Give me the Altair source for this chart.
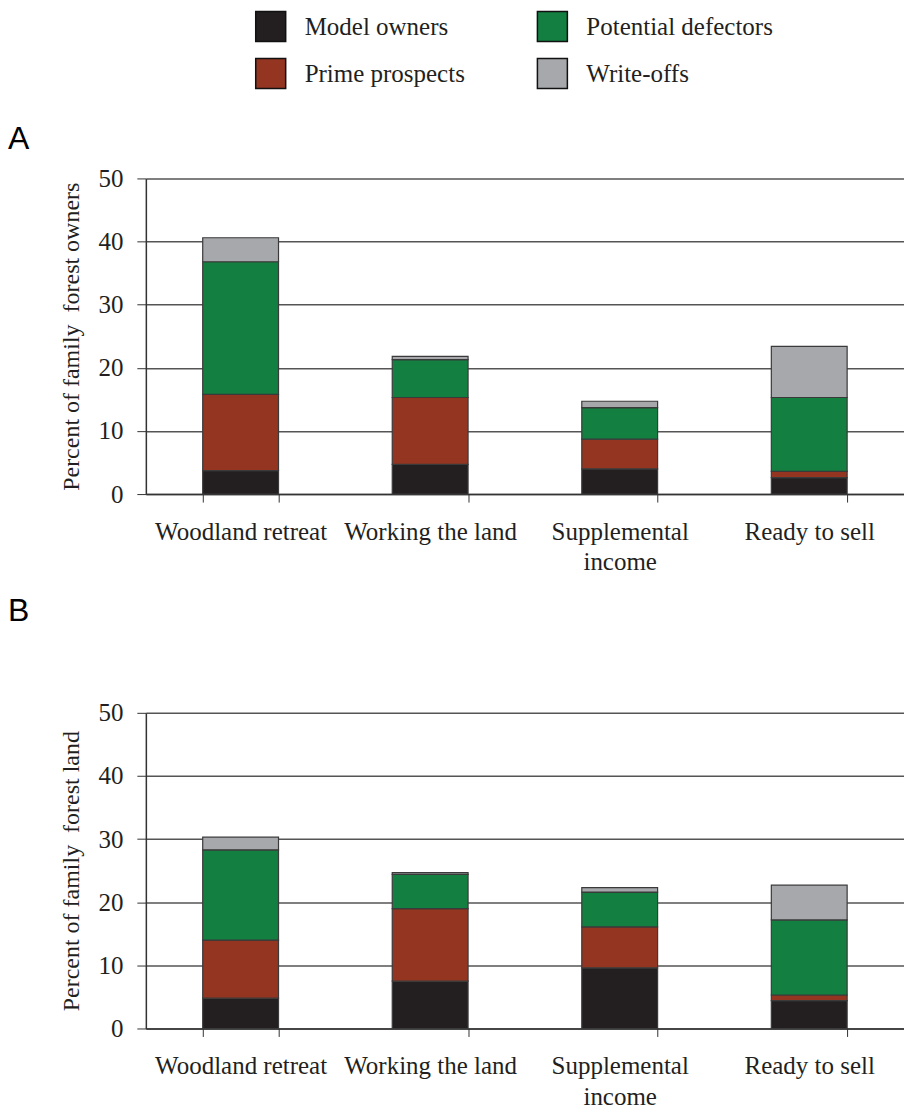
import altair as alt
import pandas as pd

categories = ["Woodland retreat", "Working the land", "Supplemental income", "Ready to sell"]
series = ["Model owners", "Prime prospects", "Potential defectors", "Write-offs"]
colors = ["#231f20", "#943521", "#137f40", "#a7a8ab"]

# Panel A: percent of family forest owners (segment sizes)
owners_model = [3.7, 4.7, 4.0, 2.6]
owners_prime = [12.1, 10.6, 4.7, 1.0]
owners_defect = [21.0, 6.0, 5.0, 11.7]
owners_write = [3.8, 0.5, 1.0, 8.1]

# Panel B: percent of family forest land (segment sizes)
land_model = [4.8, 7.5, 9.6, 4.4]
land_prime = [9.2, 11.5, 6.5, 0.9]
land_defect = [14.3, 5.4, 5.5, 11.9]
land_write = [2.0, 0.3, 0.7, 5.5]

y_ticks = [0, 10, 20, 30, 40, 50]


def make_df(model, prime, defect, write):
    rows = []
    for s_idx, (name, vals) in enumerate(zip(series, [model, prime, defect, write])):
        for c, v in zip(categories, vals):
            rows.append({"category": c, "segment": name, "order": s_idx, "value": v})
    return pd.DataFrame(rows)


SERIF = "Liberation Serif"
SANS = "Liberation Sans"
W, H = 759, 316


def panel(df, letter, ytitle, offset, show_legend):
    legend = None
    if show_legend:
        legend = alt.Legend(
            orient="none", legendX=109, legendY=-168, columns=2, title=None,
            symbolType="square", symbolSize=900, symbolStrokeColor="#111",
            symbolStrokeWidth=1.5, symbolOpacity=1,
            labelFont=SERIF, labelFontSize=25, labelColor="#231f20",
            labelLimit=400, labelOffset=18, columnPadding=69, rowPadding=11,
        )
    return alt.Chart(df).mark_bar(stroke="#3a3a3a", strokeWidth=1.2).encode(
        x=alt.X("category:N", sort=categories,
                scale=alt.Scale(paddingInner=0.6, paddingOuter=0.3),
                axis=alt.Axis(
                    title=None, labelAngle=0, tickBand="extent", tickSize=8,
                    tickColor="#333", domainColor="#333", domainWidth=1.5,
                    labelPadding=17, labelFont=SERIF, labelFontSize=25,
                    labelColor="#231f20", labelLineHeight=31, grid=False,
                    labelExpr="datum.label == 'Supplemental income' ? ['Supplemental', 'income'] : datum.label",
                )),
        y=alt.Y("value:Q", stack="zero",
                scale=alt.Scale(domain=[0, 50], nice=False),
                axis=alt.Axis(
                    values=y_ticks, title=ytitle, titleFont=SERIF,
                    titleFontSize=24, titleFontWeight="normal",
                    titleColor="#231f20", titlePadding=14,
                    labelFont=SERIF, labelFontSize=25, labelColor="#231f20",
                    labelPadding=14, tickSize=9, tickColor="#333",
                    domainColor="#333", domainWidth=1.5,
                    gridColor="#555", gridWidth=1.5,
                )),
        color=alt.Color("segment:N",
                        scale=alt.Scale(domain=series, range=colors),
                        legend=legend),
        order=alt.Order("order:Q", sort="ascending"),
    ).properties(
        width=W, height=H,
        title=alt.TitleParams(letter, anchor="start", frame="bounds", font=SANS,
                              fontSize=32, fontWeight="normal", color="black",
                              offset=offset, dx=-52),
    )


a = panel(make_df(owners_model, owners_prime, owners_defect, owners_write),
          "A", "Percent of family\u00a0 forest owners", 10, True)
b = panel(make_df(land_model, land_prime, land_defect, land_write),
          "B", "Percent of family\u00a0 forest land", 73, False)

chart = alt.vconcat(a, b, spacing=20).properties(
    padding={"left": 0, "top": 2, "right": 0, "bottom": 0}
).configure_view(stroke=None)

chart.save("out.html", embed_options={"renderer": "svg", "actions": False})
